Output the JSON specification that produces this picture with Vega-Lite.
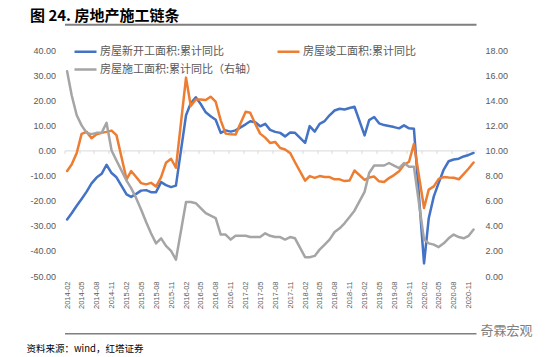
{
  "$schema": "https://vega.github.io/schema/vega-lite/v6.json",
  "width": 411.5,
  "height": 226,
  "autosize": {"type": "none"},
  "padding": {"left": 64.5, "top": 50, "right": 74, "bottom": 81},
  "background": "white",
  "title": {"text": "图 24. 房地产施工链条", "anchor": "start", "frame": "group", "dx": -34.5, "offset": 0, "fontSize": 15, "font": "Noto Sans CJK SC", "fontWeight": "bold", "color": "#000000"},
  "data": {"values": [
    {"m":"2014-02","s":"新开工","v":-27.5},{"m":"2014-03","s":"新开工","v":-25.0},{"m":"2014-04","s":"新开工","v":-22.0},{"m":"2014-05","s":"新开工","v":-19.3},{"m":"2014-06","s":"新开工","v":-16.4},{"m":"2014-07","s":"新开工","v":-13.1},{"m":"2014-08","s":"新开工","v":-10.8},{"m":"2014-09","s":"新开工","v":-9.3},{"m":"2014-10","s":"新开工","v":-5.7},{"m":"2014-11","s":"新开工","v":-9.0},{"m":"2014-12","s":"新开工","v":-10.7},
    {"m":"2015-02","s":"新开工","v":-17.5},{"m":"2015-03","s":"新开工","v":-18.5},{"m":"2015-04","s":"新开工","v":-17.3},{"m":"2015-05","s":"新开工","v":-16.0},{"m":"2015-06","s":"新开工","v":-15.8},{"m":"2015-07","s":"新开工","v":-16.6},{"m":"2015-08","s":"新开工","v":-16.6},{"m":"2015-09","s":"新开工","v":-12.6},{"m":"2015-10","s":"新开工","v":-13.8},{"m":"2015-11","s":"新开工","v":-14.6},{"m":"2015-12","s":"新开工","v":-14.0},
    {"m":"2016-02","s":"新开工","v":14.0},{"m":"2016-03","s":"新开工","v":18.8},{"m":"2016-04","s":"新开工","v":21.2},{"m":"2016-05","s":"新开工","v":18.5},{"m":"2016-06","s":"新开工","v":15.2},{"m":"2016-07","s":"新开工","v":13.6},{"m":"2016-08","s":"新开工","v":12.2},{"m":"2016-09","s":"新开工","v":7.0},{"m":"2016-10","s":"新开工","v":8.0},{"m":"2016-11","s":"新开工","v":7.5},{"m":"2016-12","s":"新开工","v":8.0},
    {"m":"2017-02","s":"新开工","v":10.4},{"m":"2017-03","s":"新开工","v":11.6},{"m":"2017-04","s":"新开工","v":11.2},{"m":"2017-05","s":"新开工","v":9.6},{"m":"2017-06","s":"新开工","v":10.6},{"m":"2017-07","s":"新开工","v":8.2},{"m":"2017-08","s":"新开工","v":7.4},{"m":"2017-09","s":"新开工","v":7.0},{"m":"2017-10","s":"新开工","v":5.6},{"m":"2017-11","s":"新开工","v":7.1},{"m":"2017-12","s":"新开工","v":7.0},
    {"m":"2018-02","s":"新开工","v":3.0},{"m":"2018-03","s":"新开工","v":9.7},{"m":"2018-04","s":"新开工","v":7.5},{"m":"2018-05","s":"新开工","v":10.6},{"m":"2018-06","s":"新开工","v":11.7},{"m":"2018-07","s":"新开工","v":14.0},{"m":"2018-08","s":"新开工","v":15.9},{"m":"2018-09","s":"新开工","v":16.6},{"m":"2018-10","s":"新开工","v":16.3},{"m":"2018-11","s":"新开工","v":16.9},{"m":"2018-12","s":"新开工","v":17.4},
    {"m":"2019-02","s":"新开工","v":6.0},{"m":"2019-03","s":"新开工","v":12.1},{"m":"2019-04","s":"新开工","v":13.3},{"m":"2019-05","s":"新开工","v":10.8},{"m":"2019-06","s":"新开工","v":10.1},{"m":"2019-07","s":"新开工","v":9.7},{"m":"2019-08","s":"新开工","v":9.3},{"m":"2019-09","s":"新开工","v":8.8},{"m":"2019-10","s":"新开工","v":10.0},{"m":"2019-11","s":"新开工","v":8.8},{"m":"2019-12","s":"新开工","v":8.6},
    {"m":"2020-02","s":"新开工","v":-45.0},{"m":"2020-03","s":"新开工","v":-27.0},{"m":"2020-04","s":"新开工","v":-18.3},{"m":"2020-05","s":"新开工","v":-12.9},{"m":"2020-06","s":"新开工","v":-7.6},{"m":"2020-07","s":"新开工","v":-4.3},{"m":"2020-08","s":"新开工","v":-3.6},{"m":"2020-09","s":"新开工","v":-3.3},{"m":"2020-10","s":"新开工","v":-2.4},{"m":"2020-11","s":"新开工","v":-1.8},{"m":"2020-12","s":"新开工","v":-1.0},
    {"m":"2014-02","s":"竣工","v":-8.2},{"m":"2014-03","s":"竣工","v":-5.6},{"m":"2014-04","s":"竣工","v":-1.0},{"m":"2014-05","s":"竣工","v":6.6},{"m":"2014-06","s":"竣工","v":7.4},{"m":"2014-07","s":"竣工","v":4.9},{"m":"2014-08","s":"竣工","v":6.4},{"m":"2014-09","s":"竣工","v":7.0},{"m":"2014-10","s":"竣工","v":7.4},{"m":"2014-11","s":"竣工","v":7.9},{"m":"2014-12","s":"竣工","v":6.1},
    {"m":"2015-02","s":"竣工","v":-11.5},{"m":"2015-03","s":"竣工","v":-8.2},{"m":"2015-04","s":"竣工","v":-10.6},{"m":"2015-05","s":"竣工","v":-13.0},{"m":"2015-06","s":"竣工","v":-13.5},{"m":"2015-07","s":"竣工","v":-12.9},{"m":"2015-08","s":"竣工","v":-14.4},{"m":"2015-09","s":"竣工","v":-10.6},{"m":"2015-10","s":"竣工","v":-4.9},{"m":"2015-11","s":"竣工","v":-3.3},{"m":"2015-12","s":"竣工","v":-6.9},
    {"m":"2016-02","s":"竣工","v":29.0},{"m":"2016-03","s":"竣工","v":17.7},{"m":"2016-04","s":"竣工","v":20.3},{"m":"2016-05","s":"竣工","v":20.3},{"m":"2016-06","s":"竣工","v":20.1},{"m":"2016-07","s":"竣工","v":21.4},{"m":"2016-08","s":"竣工","v":19.4},{"m":"2016-09","s":"竣工","v":12.0},{"m":"2016-10","s":"竣工","v":6.7},{"m":"2016-11","s":"竣工","v":6.4},{"m":"2016-12","s":"竣工","v":6.3},
    {"m":"2017-02","s":"竣工","v":15.4},{"m":"2017-03","s":"竣工","v":15.0},{"m":"2017-04","s":"竣工","v":10.6},{"m":"2017-05","s":"竣工","v":6.7},{"m":"2017-06","s":"竣工","v":5.1},{"m":"2017-07","s":"竣工","v":3.0},{"m":"2017-08","s":"竣工","v":3.4},{"m":"2017-09","s":"竣工","v":1.0},{"m":"2017-10","s":"竣工","v":0.4},{"m":"2017-11","s":"竣工","v":-1.0},{"m":"2017-12","s":"竣工","v":-4.7},
    {"m":"2018-02","s":"竣工","v":-12.0},{"m":"2018-03","s":"竣工","v":-10.2},{"m":"2018-04","s":"竣工","v":-10.9},{"m":"2018-05","s":"竣工","v":-10.2},{"m":"2018-06","s":"竣工","v":-10.6},{"m":"2018-07","s":"竣工","v":-10.6},{"m":"2018-08","s":"竣工","v":-11.5},{"m":"2018-09","s":"竣工","v":-11.5},{"m":"2018-10","s":"竣工","v":-12.2},{"m":"2018-11","s":"竣工","v":-12.0},{"m":"2018-12","s":"竣工","v":-8.0},
    {"m":"2019-02","s":"竣工","v":-11.7},{"m":"2019-03","s":"竣工","v":-10.8},{"m":"2019-04","s":"竣工","v":-10.4},{"m":"2019-05","s":"竣工","v":-12.3},{"m":"2019-06","s":"竣工","v":-12.6},{"m":"2019-07","s":"竣工","v":-11.0},{"m":"2019-08","s":"竣工","v":-9.8},{"m":"2019-09","s":"竣工","v":-8.3},{"m":"2019-10","s":"竣工","v":-5.7},{"m":"2019-11","s":"竣工","v":-4.5},{"m":"2019-12","s":"竣工","v":2.6},
    {"m":"2020-02","s":"竣工","v":-22.9},{"m":"2020-03","s":"竣工","v":-15.6},{"m":"2020-04","s":"竣工","v":-14.3},{"m":"2020-05","s":"竣工","v":-11.3},{"m":"2020-06","s":"竣工","v":-10.6},{"m":"2020-07","s":"竣工","v":-10.8},{"m":"2020-08","s":"竣工","v":-10.9},{"m":"2020-09","s":"竣工","v":-11.5},{"m":"2020-10","s":"竣工","v":-9.4},{"m":"2020-11","s":"竣工","v":-7.2},{"m":"2020-12","s":"竣工","v":-4.8},
    {"m":"2014-02","s":"施工","v":16.3},{"m":"2014-03","s":"施工","v":14.4},{"m":"2014-04","s":"施工","v":12.8},{"m":"2014-05","s":"施工","v":12.0},{"m":"2014-06","s":"施工","v":11.4},{"m":"2014-07","s":"施工","v":11.3},{"m":"2014-08","s":"施工","v":11.4},{"m":"2014-09","s":"施工","v":11.4},{"m":"2014-10","s":"施工","v":12.2},{"m":"2014-11","s":"施工","v":10.0},{"m":"2014-12","s":"施工","v":9.2},
    {"m":"2015-02","s":"施工","v":7.6},{"m":"2015-03","s":"施工","v":7.0},{"m":"2015-04","s":"施工","v":6.2},{"m":"2015-05","s":"施工","v":5.3},{"m":"2015-06","s":"施工","v":4.3},{"m":"2015-07","s":"施工","v":3.4},{"m":"2015-08","s":"施工","v":2.6},{"m":"2015-09","s":"施工","v":3.0},{"m":"2015-10","s":"施工","v":2.4},{"m":"2015-11","s":"施工","v":2.0},{"m":"2015-12","s":"施工","v":1.3},
    {"m":"2016-02","s":"施工","v":5.9},{"m":"2016-03","s":"施工","v":5.9},{"m":"2016-04","s":"施工","v":5.8},{"m":"2016-05","s":"施工","v":5.4},{"m":"2016-06","s":"施工","v":5.0},{"m":"2016-07","s":"施工","v":4.8},{"m":"2016-08","s":"施工","v":4.6},{"m":"2016-09","s":"施工","v":3.3},{"m":"2016-10","s":"施工","v":3.3},{"m":"2016-11","s":"施工","v":2.9},{"m":"2016-12","s":"施工","v":3.2},
    {"m":"2017-02","s":"施工","v":3.2},{"m":"2017-03","s":"施工","v":3.1},{"m":"2017-04","s":"施工","v":3.1},{"m":"2017-05","s":"施工","v":3.1},{"m":"2017-06","s":"施工","v":3.4},{"m":"2017-07","s":"施工","v":3.2},{"m":"2017-08","s":"施工","v":3.1},{"m":"2017-09","s":"施工","v":3.1},{"m":"2017-10","s":"施工","v":2.9},{"m":"2017-11","s":"施工","v":3.1},{"m":"2017-12","s":"施工","v":3.0},
    {"m":"2018-02","s":"施工","v":1.5},{"m":"2018-03","s":"施工","v":1.5},{"m":"2018-04","s":"施工","v":1.6},{"m":"2018-05","s":"施工","v":2.1},{"m":"2018-06","s":"施工","v":2.5},{"m":"2018-07","s":"施工","v":2.9},{"m":"2018-08","s":"施工","v":3.5},{"m":"2018-09","s":"施工","v":3.8},{"m":"2018-10","s":"施工","v":4.2},{"m":"2018-11","s":"施工","v":4.7},{"m":"2018-12","s":"施工","v":5.2},
    {"m":"2019-02","s":"施工","v":6.7},{"m":"2019-03","s":"施工","v":8.2},{"m":"2019-04","s":"施工","v":8.8},{"m":"2019-05","s":"施工","v":8.8},{"m":"2019-06","s":"施工","v":8.8},{"m":"2019-07","s":"施工","v":9.0},{"m":"2019-08","s":"施工","v":8.8},{"m":"2019-09","s":"施工","v":8.6},{"m":"2019-10","s":"施工","v":9.0},{"m":"2019-11","s":"施工","v":8.7},{"m":"2019-12","s":"施工","v":8.7},
    {"m":"2020-02","s":"施工","v":2.9},{"m":"2020-03","s":"施工","v":2.6},{"m":"2020-04","s":"施工","v":2.5},{"m":"2020-05","s":"施工","v":2.3},{"m":"2020-06","s":"施工","v":2.6},{"m":"2020-07","s":"施工","v":3.0},{"m":"2020-08","s":"施工","v":3.3},{"m":"2020-09","s":"施工","v":3.1},{"m":"2020-10","s":"施工","v":3.0},{"m":"2020-11","s":"施工","v":3.2},{"m":"2020-12","s":"施工","v":3.7}
  ]},
  "layer": [
    {
      "transform": [{"filter": "datum.s === '新开工'"}],
      "mark": {"type": "line", "strokeWidth": 2.5, "strokeJoin": "round", "strokeCap": "round"},
      "encoding": {
        "x": {"field": "m", "type": "temporal",
          "scale": {"type": "utc", "domain": [{"year": 2014, "month": 1, "date": 16, "utc": true}, {"year": 2020, "month": 12, "date": 16, "utc": true}]},
          "axis": {"orient": "top", "offset": 25.7, "domain": true, "domainColor": "#7F7F7F", "domainWidth": 2, "labels": false, "ticks": false, "grid": false, "title": null}},
        "y": {"field": "v", "type": "quantitative",
          "scale": {"domain": [-50, 40], "nice": false, "zero": false},
          "axis": {"orient": "left", "values": [-50, -40, -30, -20, -10, 0, 10, 20, 30, 40], "labelExpr": "datum.value < 0 ? '-' + format(-datum.value, '.2f') : format(datum.value, '.2f')", "labelPadding": 9, "ticks": false, "domain": false, "grid": false, "title": null}},
        "color": {"field": "s", "type": "nominal",
          "scale": {"domain": ["新开工", "竣工", "施工"], "range": ["#4472C4", "#ED7D31", "#A5A5A5"]},
          "legend": {"orient": "none", "legendX": 8.5, "legendY": -11, "direction": "horizontal", "columns": 2, "title": null, "symbolType": "stroke", "symbolSize": 484, "symbolStrokeWidth": 2.5, "labelFont": "Noto Sans CJK SC", "labelFontSize": 11, "labelColor": "#595959", "labelOffset": 2, "columnPadding": 14, "rowPadding": 0, "labelLimit": 400,
            "labelExpr": "datum.label === '新开工' ? '房屋新开工面积:累计同比' : datum.label === '竣工' ? '房屋竣工面积:累计同比' : '房屋施工面积:累计同比（右轴）'"}}
      }
    },
    {
      "transform": [{"filter": "datum.s === '竣工'"}],
      "mark": {"type": "line", "strokeWidth": 2.5, "strokeJoin": "round", "strokeCap": "round"},
      "encoding": {
        "x": {"field": "m", "type": "temporal",
          "axis": {"orient": "bottom", "offset": -125.6, "labels": false, "ticks": true, "tickSize": 3, "tickColor": "#D9D9D9", "tickWidth": 1, "domain": true, "domainColor": "#D9D9D9", "domainWidth": 1, "grid": false, "title": null,
            "values": [
              {"year": 2014, "month": 1, "date": 16, "utc": true}, {"year": 2014, "month": 4, "date": 16, "utc": true}, {"year": 2014, "month": 7, "date": 16, "utc": true}, {"year": 2014, "month": 10, "date": 16, "utc": true},
              {"year": 2015, "month": 1, "date": 16, "utc": true}, {"year": 2015, "month": 4, "date": 16, "utc": true}, {"year": 2015, "month": 7, "date": 16, "utc": true}, {"year": 2015, "month": 10, "date": 16, "utc": true},
              {"year": 2016, "month": 1, "date": 16, "utc": true}, {"year": 2016, "month": 4, "date": 16, "utc": true}, {"year": 2016, "month": 7, "date": 16, "utc": true}, {"year": 2016, "month": 10, "date": 16, "utc": true},
              {"year": 2017, "month": 1, "date": 16, "utc": true}, {"year": 2017, "month": 4, "date": 16, "utc": true}, {"year": 2017, "month": 7, "date": 16, "utc": true}, {"year": 2017, "month": 10, "date": 16, "utc": true},
              {"year": 2018, "month": 1, "date": 16, "utc": true}, {"year": 2018, "month": 4, "date": 16, "utc": true}, {"year": 2018, "month": 7, "date": 16, "utc": true}, {"year": 2018, "month": 10, "date": 16, "utc": true},
              {"year": 2019, "month": 1, "date": 16, "utc": true}, {"year": 2019, "month": 4, "date": 16, "utc": true}, {"year": 2019, "month": 7, "date": 16, "utc": true}, {"year": 2019, "month": 10, "date": 16, "utc": true},
              {"year": 2020, "month": 1, "date": 16, "utc": true}, {"year": 2020, "month": 4, "date": 16, "utc": true}, {"year": 2020, "month": 7, "date": 16, "utc": true}, {"year": 2020, "month": 10, "date": 16, "utc": true}
            ]}},
        "y": {"field": "v", "type": "quantitative", "scale": {"domain": [-50, 40], "nice": false, "zero": false}, "axis": null},
        "color": {"field": "s", "type": "nominal",
          "scale": {"domain": ["新开工", "竣工", "施工"], "range": ["#4472C4", "#ED7D31", "#A5A5A5"]}}
      }
    },
    {
      "data": {"values": [{"k": "watermark"}]},
      "mark": {"type": "text", "text": "奇霖宏观", "font": "Noto Sans CJK SC", "fontSize": 13, "color": "#7F7F7F", "align": "center", "baseline": "middle"},
      "encoding": {
        "x": {"datum": {"year": 2021, "month": 6, "date": 21, "utc": true}, "type": "temporal",
          "axis": {"orient": "bottom", "offset": 57.3, "domain": true, "domainColor": "#7F7F7F", "domainWidth": 1.5, "labels": false, "ticks": false, "grid": false, "title": null}},
        "y": {"datum": -71.8, "type": "quantitative", "scale": {"domain": [-50, 40], "nice": false, "zero": false}, "axis": null}
      }
    },
    {
      "transform": [{"filter": "datum.s === '施工'"}],
      "mark": {"type": "line", "strokeWidth": 2.5, "strokeJoin": "round", "strokeCap": "round"},
      "encoding": {
        "x": {"field": "m", "type": "temporal",
          "axis": {"orient": "bottom", "format": "%Y-%m", "labelAngle": -90, "labelFontSize": 7.5, "labelColor": "#595959", "labelPadding": 5, "ticks": false, "domain": false, "grid": false, "labelOverlap": false, "labelFlush": false, "labelBound": false,
            "title": "资料来源：wind，红塔证券", "titleX": -38.5, "titleY": 75.5, "titleAlign": "left", "titleAnchor": null, "titleBaseline": "alphabetic", "titleFontSize": 9.5, "titleFontWeight": "normal", "titleColor": "#000000", "titleFont": "Noto Sans CJK SC",
            "values": [
              {"year": 2014, "month": 2, "date": 1, "utc": true}, {"year": 2014, "month": 5, "date": 1, "utc": true}, {"year": 2014, "month": 8, "date": 1, "utc": true}, {"year": 2014, "month": 11, "date": 1, "utc": true},
              {"year": 2015, "month": 2, "date": 1, "utc": true}, {"year": 2015, "month": 5, "date": 1, "utc": true}, {"year": 2015, "month": 8, "date": 1, "utc": true}, {"year": 2015, "month": 11, "date": 1, "utc": true},
              {"year": 2016, "month": 2, "date": 1, "utc": true}, {"year": 2016, "month": 5, "date": 1, "utc": true}, {"year": 2016, "month": 8, "date": 1, "utc": true}, {"year": 2016, "month": 11, "date": 1, "utc": true},
              {"year": 2017, "month": 2, "date": 1, "utc": true}, {"year": 2017, "month": 5, "date": 1, "utc": true}, {"year": 2017, "month": 8, "date": 1, "utc": true}, {"year": 2017, "month": 11, "date": 1, "utc": true},
              {"year": 2018, "month": 2, "date": 1, "utc": true}, {"year": 2018, "month": 5, "date": 1, "utc": true}, {"year": 2018, "month": 8, "date": 1, "utc": true}, {"year": 2018, "month": 11, "date": 1, "utc": true},
              {"year": 2019, "month": 2, "date": 1, "utc": true}, {"year": 2019, "month": 5, "date": 1, "utc": true}, {"year": 2019, "month": 8, "date": 1, "utc": true}, {"year": 2019, "month": 11, "date": 1, "utc": true},
              {"year": 2020, "month": 2, "date": 1, "utc": true}, {"year": 2020, "month": 5, "date": 1, "utc": true}, {"year": 2020, "month": 8, "date": 1, "utc": true}, {"year": 2020, "month": 11, "date": 1, "utc": true}
            ]}},
        "y": {"field": "v", "type": "quantitative",
          "scale": {"domain": [0, 18], "nice": false, "zero": false},
          "axis": {"orient": "right", "values": [0, 2, 4, 6, 8, 10, 12, 14, 16, 18], "format": ".2f", "labelPadding": 9, "ticks": false, "domain": false, "grid": false, "title": null}},
        "color": {"field": "s", "type": "nominal",
          "scale": {"domain": ["新开工", "竣工", "施工"], "range": ["#4472C4", "#ED7D31", "#A5A5A5"]}}
      }
    }
  ],
  "resolve": {"scale": {"y": "independent"}, "axis": {"x": "independent", "y": "independent"}},
  "config": {
    "view": {"stroke": null},
    "axis": {"labelFont": "Liberation Sans", "labelColor": "#595959", "labelFontSize": 9}
  }
}
